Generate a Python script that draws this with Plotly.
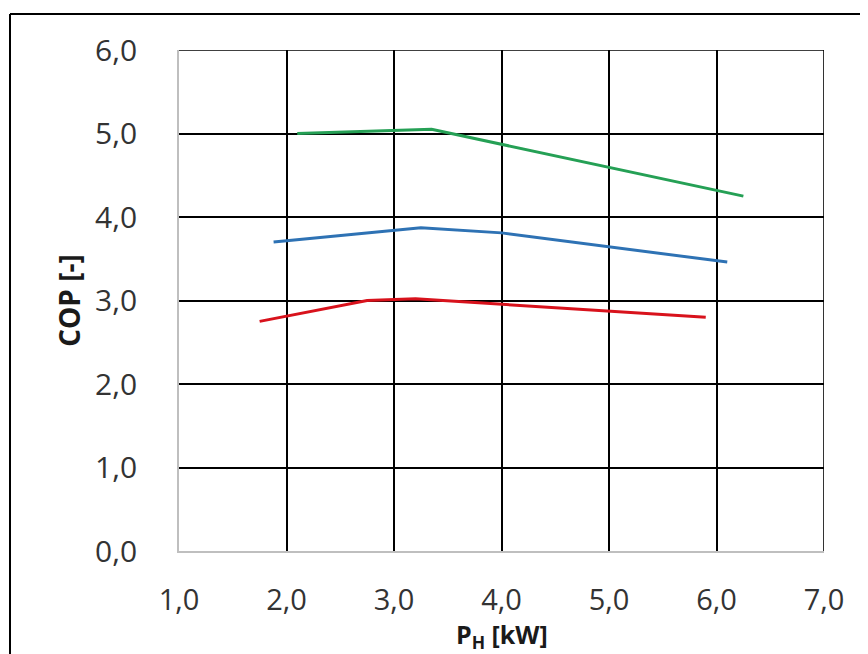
import plotly.graph_objects as go

green_x = [2.1, 3.35, 6.25]
green_y = [5.0, 5.05, 4.25]
blue_x = [1.88, 3.25, 4.0, 6.1]
blue_y = [3.70, 3.87, 3.81, 3.46]
red_x = [1.75, 2.75, 3.2, 5.9]
red_y = [2.75, 3.0, 3.02, 2.80]

x_ticks = [1, 2, 3, 4, 5, 6, 7]
y_ticks = [0, 1, 2, 3, 4, 5, 6]

FONT = "Open Sans"
OFF = 8  # page body margin
W, H = 868 - OFF, 654 - OFF
L, R, T, B = 179 - OFF, 44, 50 - OFF, 103
PW, PH = W - L - R, H - T - B

fig = go.Figure()
for xs, ys, col in [(green_x, green_y, "#25A055"), (blue_x, blue_y, "#2E72B4"), (red_x, red_y, "#D8121C")]:
    fig.add_trace(go.Scatter(x=xs, y=ys, mode="lines", line=dict(color=col, width=3), showlegend=False))

fig.update_layout(
    width=W, height=H,
    margin=dict(l=L, r=R, t=T, b=B, pad=0),
    paper_bgcolor="white", plot_bgcolor="white",
    separators=", ",
    font=dict(family=FONT, color="#262626"),
    xaxis=dict(range=[1, 7], tickvals=x_ticks, tickformat=".1f", automargin=False,
               showgrid=True, gridcolor="#000000", gridwidth=1.6,
               showline=True, linecolor="#BFBFBF", linewidth=1.6,
               ticks="", ticklabelstandoff=22, tickfont=dict(size=29, family=FONT, color="#333333"),
               zeroline=False),
    yaxis=dict(range=[0, 6], tickvals=y_ticks, tickformat=".1f", automargin=False,
               showgrid=True, gridcolor="#000000", gridwidth=1.6,
               showline=True, linecolor="#BFBFBF", linewidth=1.6,
               ticks="", ticklabelstandoff=34, tickfont=dict(size=30, family=FONT, color="#333333"),
               zeroline=False,
               title=dict(text="<b>COP [-]</b>", font=dict(size=28, family=FONT, color="#1a1a1a"), standoff=6)),
)
# x-axis title as annotation (fixed position below tick labels)
fig.add_annotation(text="<b>P<sub>H</sub> [kW]</b>", xref="paper", yref="paper",
                   x=0.5, xanchor="center", y=(551 - 656) / PH, yanchor="bottom",
                   showarrow=False, font=dict(size=25, family=FONT, color="#1a1a1a"))

# top and right grid edges
fig.add_shape(type="line", xref="x", yref="y", x0=1, x1=7, y0=6, y1=6, line=dict(color="#000000", width=1.6))
fig.add_shape(type="line", xref="x", yref="y", x0=7, x1=7, y0=0, y1=6, line=dict(color="#000000", width=1.6))

# outer frame (top and left edges of the picture)
fx0 = (10 - 179) / PW
fy0 = (551 - 14) / PH
fig.add_shape(type="line", xref="paper", yref="paper", x0=fx0, x1=(880 - 179) / PW, y0=fy0, y1=fy0,
              line=dict(color="#000000", width=2))
fig.add_shape(type="line", xref="paper", yref="paper", x0=fx0, x1=fx0, y0=fy0, y1=(551 - 670) / PH,
              line=dict(color="#000000", width=2))

fig.write_html("out.html")
